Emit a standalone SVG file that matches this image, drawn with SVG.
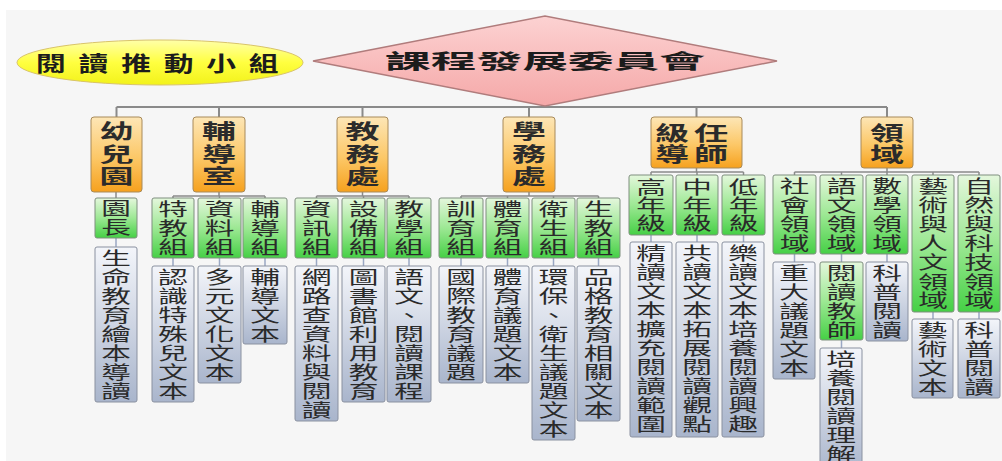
<svg xmlns="http://www.w3.org/2000/svg" width="1002" height="461" viewBox="0 0 1002 461">
<style>
.c{font-family:"Noto Sans CJK TC","Noto Sans CJK SC",sans-serif;font-size:18px;fill:#2a2a2a;text-anchor:middle}
.o{font-family:"Noto Sans CJK TC","Noto Sans CJK SC",sans-serif;font-size:20px;font-weight:700;fill:#2b2b2b;text-anchor:middle}
.h{font-family:"Noto Sans CJK TC","Noto Sans CJK SC",sans-serif;font-size:20px;font-weight:700;fill:#1c1c1c}
.bo{fill:url(#gO);stroke:#a88a5a;stroke-width:1}
.bg{fill:url(#gG);stroke:#7f8f7f;stroke-width:1}
.bs{fill:url(#gS);stroke:#8a91a0;stroke-width:1}
.ln{stroke:#8a8a8a;stroke-width:2;fill:none}
.sl{stroke:#8a8a8a;stroke-width:1.5;fill:none}
.tk{stroke:#9aa8c4;stroke-width:1.5;fill:none}
</style>
<defs>
<linearGradient id="gO" x1="0" y1="0" x2="0" y2="1"><stop offset="0" stop-color="#fde6b6"/><stop offset="0.55" stop-color="#fcc766"/><stop offset="1" stop-color="#f6a11e"/></linearGradient>
<linearGradient id="gG" x1="0" y1="0" x2="0" y2="1"><stop offset="0" stop-color="#e4f7dc"/><stop offset="0.5" stop-color="#9de894"/><stop offset="1" stop-color="#45d045"/></linearGradient>
<linearGradient id="gS" x1="0" y1="0" x2="0" y2="1"><stop offset="0" stop-color="#f3f5fa"/><stop offset="1" stop-color="#a9b5cc"/></linearGradient>
<linearGradient id="gY" x1="0" y1="0" x2="0" y2="1"><stop offset="0" stop-color="#ffffa8"/><stop offset="0.5" stop-color="#ffff40"/><stop offset="1" stop-color="#f2f21a"/></linearGradient>
<linearGradient id="gP" x1="0" y1="0" x2="0" y2="1"><stop offset="0" stop-color="#fcd2d2"/><stop offset="1" stop-color="#f5a8a8"/></linearGradient>
</defs>
<rect x="0" y="0" width="1002" height="461" fill="#ffffff"/>
<rect x="6" y="10" width="996" height="451" fill="#f6f6f6"/>

<g id="connectors">
<path class="ln" d="M116.5 107H887M116.5 107V117M219 107V117M362.5 107V117M529 107V117M696.5 107V117M887 107V117"/>
<path class="sl" d="M116 192V198"/>
<path class="sl" d="M219 192V196M173 196H265M173 196V198M219.5 196V198M265 196V198"/>
<path class="sl" d="M362.5 192V196M316.5 196H409M316.5 196V198M363.5 196V198M409 196V198"/>
<path class="sl" d="M529 192V196M461 196H598.5M461 196V198M507.5 196V198M553.5 196V198M598.5 196V198"/>
<path class="sl" d="M696.5 168V172M651 172H743.5M651 172V175M697 172V175M743.5 172V175"/>
<path class="sl" d="M887 168V172M794.5 172H979M794.5 172V175M841.5 172V175M887 172V175M933 172V175M979 172V175"/>
<path class="tk" d="M116 238V247M173 258V266M219.5 258V266M265 258V266M316.5 258V266M363.5 258V266M409 258V266M461 258V266M507.5 258V266M553.5 258V266M598.5 258V266M651 235V242M697 235V242M743.5 235V242M794.5 254V262M841.5 254V262M887 254V262M933 312V319M979 312V319M841.5 340V348"/>
</g>

<g id="reading-group">
<ellipse cx="160" cy="62.5" rx="143" ry="22.5" fill="url(#gY)" stroke="#d9c46a" stroke-width="1"/>
<text class="h" style="font-size:21px" transform="translate(36,71) scale(1.42,1)" letter-spacing="9">閱讀推動小組</text>
</g>

<g id="committee">
<polygon points="313,61 545,16 777,61 545,106" fill="url(#gP)" stroke="#b07c7c" stroke-width="1.5"/>
<text class="h" x="385" y="69" textLength="320" lengthAdjust="spacingAndGlyphs">課程發展委員會</text>
</g>

<g id="kindergarten">
<rect class="bo" x="91" y="117" width="51" height="75" rx="3"/>
<text class="o" transform="translate(116.5,0) scale(1.7,1)"><tspan x="0" y="139.5">幼</tspan><tspan x="0" y="162">兒</tspan><tspan x="0" y="184.5">園</tspan></text>
</g>
<g id="counseling">
<rect class="bo" x="193" y="117" width="52" height="75" rx="3"/>
<text class="o" transform="translate(219,0) scale(1.7,1)"><tspan x="0" y="139.5">輔</tspan><tspan x="0" y="162">導</tspan><tspan x="0" y="184.5">室</tspan></text>
</g>
<g id="academic">
<rect class="bo" x="337" y="117" width="51" height="75" rx="3"/>
<text class="o" transform="translate(362.5,0) scale(1.7,1)"><tspan x="0" y="139.5">教</tspan><tspan x="0" y="162">務</tspan><tspan x="0" y="184.5">處</tspan></text>
</g>
<g id="student-affairs">
<rect class="bo" x="503" y="117" width="52" height="75" rx="3"/>
<text class="o" transform="translate(529,0) scale(1.7,1)"><tspan x="0" y="139.5">學</tspan><tspan x="0" y="162">務</tspan><tspan x="0" y="184.5">處</tspan></text>
</g>
<g id="homeroom">
<rect class="bo" x="651" y="117" width="91" height="51" rx="3"/>
<text class="o" transform="translate(672,0) scale(1.7,1)"><tspan x="0" y="141">級</tspan><tspan x="0" y="162.5">導</tspan></text>
<text class="o" transform="translate(711,0) scale(1.7,1)"><tspan x="0" y="141">任</tspan><tspan x="0" y="162.5">師</tspan></text>
</g>
<g id="domains">
<rect class="bo" x="861" y="117" width="52" height="51" rx="3"/>
<text class="o" transform="translate(887,0) scale(1.7,1)"><tspan x="0" y="141">領</tspan><tspan x="0" y="162.5">域</tspan></text>
</g>

<g id="principal">
<rect class="bg" x="95" y="198" width="42" height="40" rx="2"/>
<text class="c" transform="translate(116,0) scale(1.65,1)"><tspan x="0" y="215.5">園</tspan><tspan x="0" y="234.5">長</tspan></text>
</g>
<g id="special-ed">
<rect class="bg" x="152" y="198" width="42" height="60" rx="2"/>
<text class="c" transform="translate(173,0) scale(1.65,1)"><tspan x="0" y="216.5">特</tspan><tspan x="0" y="235.5">教</tspan><tspan x="0" y="254.5">組</tspan></text>
</g>
<g id="data-sec">
<rect class="bg" x="198" y="198" width="43" height="60" rx="2"/>
<text class="c" transform="translate(219.5,0) scale(1.65,1)"><tspan x="0" y="216.5">資</tspan><tspan x="0" y="235.5">料</tspan><tspan x="0" y="254.5">組</tspan></text>
</g>
<g id="guidance-sec">
<rect class="bg" x="243" y="198" width="44" height="60" rx="2"/>
<text class="c" transform="translate(265,0) scale(1.65,1)"><tspan x="0" y="216.5">輔</tspan><tspan x="0" y="235.5">導</tspan><tspan x="0" y="254.5">組</tspan></text>
</g>
<g id="info-sec">
<rect class="bg" x="295" y="198" width="43" height="60" rx="2"/>
<text class="c" transform="translate(316.5,0) scale(1.65,1)"><tspan x="0" y="216.5">資</tspan><tspan x="0" y="235.5">訊</tspan><tspan x="0" y="254.5">組</tspan></text>
</g>
<g id="equip-sec">
<rect class="bg" x="342" y="198" width="43" height="60" rx="2"/>
<text class="c" transform="translate(363.5,0) scale(1.65,1)"><tspan x="0" y="216.5">設</tspan><tspan x="0" y="235.5">備</tspan><tspan x="0" y="254.5">組</tspan></text>
</g>
<g id="teaching-sec">
<rect class="bg" x="387" y="198" width="44" height="60" rx="2"/>
<text class="c" transform="translate(409,0) scale(1.65,1)"><tspan x="0" y="216.5">教</tspan><tspan x="0" y="235.5">學</tspan><tspan x="0" y="254.5">組</tspan></text>
</g>
<g id="discipline-sec">
<rect class="bg" x="439" y="198" width="44" height="60" rx="2"/>
<text class="c" transform="translate(461,0) scale(1.65,1)"><tspan x="0" y="216.5">訓</tspan><tspan x="0" y="235.5">育</tspan><tspan x="0" y="254.5">組</tspan></text>
</g>
<g id="pe-sec">
<rect class="bg" x="486" y="198" width="43" height="60" rx="2"/>
<text class="c" transform="translate(507.5,0) scale(1.65,1)"><tspan x="0" y="216.5">體</tspan><tspan x="0" y="235.5">育</tspan><tspan x="0" y="254.5">組</tspan></text>
</g>
<g id="health-sec">
<rect class="bg" x="532" y="198" width="43" height="60" rx="2"/>
<text class="c" transform="translate(553.5,0) scale(1.65,1)"><tspan x="0" y="216.5">衛</tspan><tspan x="0" y="235.5">生</tspan><tspan x="0" y="254.5">組</tspan></text>
</g>
<g id="life-sec">
<rect class="bg" x="577" y="198" width="43" height="60" rx="2"/>
<text class="c" transform="translate(598.5,0) scale(1.65,1)"><tspan x="0" y="216.5">生</tspan><tspan x="0" y="235.5">教</tspan><tspan x="0" y="254.5">組</tspan></text>
</g>
<g id="senior-grade">
<rect class="bg" x="629" y="175" width="44" height="60" rx="2"/>
<text class="c" transform="translate(651,0) scale(1.65,1)"><tspan x="0" y="194.5">高</tspan><tspan x="0" y="212.5">年</tspan><tspan x="0" y="230.5">級</tspan></text>
</g>
<g id="middle-grade">
<rect class="bg" x="676" y="175" width="42" height="60" rx="2"/>
<text class="c" transform="translate(697,0) scale(1.65,1)"><tspan x="0" y="194.5">中</tspan><tspan x="0" y="212.5">年</tspan><tspan x="0" y="230.5">級</tspan></text>
</g>
<g id="junior-grade">
<rect class="bg" x="722" y="175" width="43" height="60" rx="2"/>
<text class="c" transform="translate(743.5,0) scale(1.65,1)"><tspan x="0" y="194.5">低</tspan><tspan x="0" y="212.5">年</tspan><tspan x="0" y="230.5">級</tspan></text>
</g>
<g id="social-domain">
<rect class="bg" x="773" y="175" width="43" height="79" rx="2"/>
<text class="c" transform="translate(794.5,0) scale(1.65,1)"><tspan x="0" y="193.5">社</tspan><tspan x="0" y="212.5">會</tspan><tspan x="0" y="231.5">領</tspan><tspan x="0" y="250.5">域</tspan></text>
</g>
<g id="language-domain">
<rect class="bg" x="820" y="175" width="43" height="79" rx="2"/>
<text class="c" transform="translate(841.5,0) scale(1.65,1)"><tspan x="0" y="193.5">語</tspan><tspan x="0" y="212.5">文</tspan><tspan x="0" y="231.5">領</tspan><tspan x="0" y="250.5">域</tspan></text>
</g>
<g id="math-domain">
<rect class="bg" x="866" y="175" width="42" height="79" rx="2"/>
<text class="c" transform="translate(887,0) scale(1.65,1)"><tspan x="0" y="193.5">數</tspan><tspan x="0" y="212.5">學</tspan><tspan x="0" y="231.5">領</tspan><tspan x="0" y="250.5">域</tspan></text>
</g>
<g id="arts-domain">
<rect class="bg" x="912" y="175" width="42" height="137" rx="2"/>
<text class="c" transform="translate(933,0) scale(1.65,1)"><tspan x="0" y="193.5">藝</tspan><tspan x="0" y="212.5">術</tspan><tspan x="0" y="231.5">與</tspan><tspan x="0" y="250.5">人</tspan><tspan x="0" y="269.5">文</tspan><tspan x="0" y="288.5">領</tspan><tspan x="0" y="307.5">域</tspan></text>
</g>
<g id="science-domain">
<rect class="bg" x="958" y="175" width="42" height="137" rx="2"/>
<text class="c" transform="translate(979,0) scale(1.65,1)"><tspan x="0" y="193.5">自</tspan><tspan x="0" y="212.5">然</tspan><tspan x="0" y="231.5">與</tspan><tspan x="0" y="250.5">科</tspan><tspan x="0" y="269.5">技</tspan><tspan x="0" y="288.5">領</tspan><tspan x="0" y="307.5">域</tspan></text>
</g>
<g id="reading-teacher">
<rect class="bg" x="820" y="262" width="43" height="78" rx="2"/>
<text class="c" transform="translate(841.5,0) scale(1.65,1)"><tspan x="0" y="280.5">閱</tspan><tspan x="0" y="299.5">讀</tspan><tspan x="0" y="318.5">教</tspan><tspan x="0" y="337.5">師</tspan></text>
</g>

<g id="t-life">
<rect class="bs" x="95" y="247" width="42" height="155" rx="2"/>
<text class="c" transform="translate(116,0) scale(1.65,1)"><tspan x="0" y="265.5">生</tspan><tspan x="0" y="284.5">命</tspan><tspan x="0" y="303.5">教</tspan><tspan x="0" y="322.5">育</tspan><tspan x="0" y="341.5">繪</tspan><tspan x="0" y="360.5">本</tspan><tspan x="0" y="379.5">導</tspan><tspan x="0" y="398.5">讀</tspan></text>
</g>
<g id="t-special">
<rect class="bs" x="152" y="266" width="42" height="136" rx="2"/>
<text class="c" transform="translate(173,0) scale(1.65,1)"><tspan x="0" y="284.5">認</tspan><tspan x="0" y="303.5">識</tspan><tspan x="0" y="322.5">特</tspan><tspan x="0" y="341.5">殊</tspan><tspan x="0" y="360.5">兒</tspan><tspan x="0" y="379.5">文</tspan><tspan x="0" y="398.5">本</tspan></text>
</g>
<g id="t-multicultural">
<rect class="bs" x="198" y="266" width="43" height="117" rx="2"/>
<text class="c" transform="translate(219.5,0) scale(1.65,1)"><tspan x="0" y="284.5">多</tspan><tspan x="0" y="303.5">元</tspan><tspan x="0" y="322.5">文</tspan><tspan x="0" y="341.5">化</tspan><tspan x="0" y="360.5">文</tspan><tspan x="0" y="379.5">本</tspan></text>
</g>
<g id="t-guidance">
<rect class="bs" x="243" y="266" width="44" height="78" rx="2"/>
<text class="c" transform="translate(265,0) scale(1.65,1)"><tspan x="0" y="284.5">輔</tspan><tspan x="0" y="303.5">導</tspan><tspan x="0" y="322.5">文</tspan><tspan x="0" y="341.5">本</tspan></text>
</g>
<g id="t-internet">
<rect class="bs" x="295" y="266" width="43" height="155" rx="2"/>
<text class="c" transform="translate(316.5,0) scale(1.65,1)"><tspan x="0" y="284.5">網</tspan><tspan x="0" y="303.5">路</tspan><tspan x="0" y="322.5">查</tspan><tspan x="0" y="341.5">資</tspan><tspan x="0" y="360.5">料</tspan><tspan x="0" y="379.5">與</tspan><tspan x="0" y="398.5">閱</tspan><tspan x="0" y="417.5">讀</tspan></text>
</g>
<g id="t-library">
<rect class="bs" x="342" y="266" width="43" height="136" rx="2"/>
<text class="c" transform="translate(363.5,0) scale(1.65,1)"><tspan x="0" y="284.5">圖</tspan><tspan x="0" y="303.5">書</tspan><tspan x="0" y="322.5">館</tspan><tspan x="0" y="341.5">利</tspan><tspan x="0" y="360.5">用</tspan><tspan x="0" y="379.5">教</tspan><tspan x="0" y="398.5">育</tspan></text>
</g>
<g id="t-course">
<rect class="bs" x="387" y="266" width="44" height="136" rx="2"/>
<text class="c" transform="translate(409,0) scale(1.65,1)"><tspan x="0" y="284.5">語</tspan><tspan x="0" y="303.5">文</tspan><tspan x="0" y="322.5">、</tspan><tspan x="0" y="341.5">閱</tspan><tspan x="0" y="360.5">讀</tspan><tspan x="0" y="379.5">課</tspan><tspan x="0" y="398.5">程</tspan></text>
</g>
<g id="t-international">
<rect class="bs" x="439" y="266" width="44" height="117" rx="2"/>
<text class="c" transform="translate(461,0) scale(1.65,1)"><tspan x="0" y="284.5">國</tspan><tspan x="0" y="303.5">際</tspan><tspan x="0" y="322.5">教</tspan><tspan x="0" y="341.5">育</tspan><tspan x="0" y="360.5">議</tspan><tspan x="0" y="379.5">題</tspan></text>
</g>
<g id="t-pe">
<rect class="bs" x="486" y="266" width="43" height="117" rx="2"/>
<text class="c" transform="translate(507.5,0) scale(1.65,1)"><tspan x="0" y="284.5">體</tspan><tspan x="0" y="303.5">育</tspan><tspan x="0" y="322.5">議</tspan><tspan x="0" y="341.5">題</tspan><tspan x="0" y="360.5">文</tspan><tspan x="0" y="379.5">本</tspan></text>
</g>
<g id="t-environment">
<rect class="bs" x="532" y="266" width="43" height="174" rx="2"/>
<text class="c" transform="translate(553.5,0) scale(1.65,1)"><tspan x="0" y="284.5">環</tspan><tspan x="0" y="303.5">保</tspan><tspan x="0" y="322.5">、</tspan><tspan x="0" y="341.5">衛</tspan><tspan x="0" y="360.5">生</tspan><tspan x="0" y="379.5">議</tspan><tspan x="0" y="398.5">題</tspan><tspan x="0" y="417.5">文</tspan><tspan x="0" y="436.5">本</tspan></text>
</g>
<g id="t-character">
<rect class="bs" x="577" y="266" width="43" height="155" rx="2"/>
<text class="c" transform="translate(598.5,0) scale(1.65,1)"><tspan x="0" y="284.5">品</tspan><tspan x="0" y="303.5">格</tspan><tspan x="0" y="322.5">教</tspan><tspan x="0" y="341.5">育</tspan><tspan x="0" y="360.5">相</tspan><tspan x="0" y="379.5">關</tspan><tspan x="0" y="398.5">文</tspan><tspan x="0" y="417.5">本</tspan></text>
</g>
<g id="t-senior">
<rect class="bs" x="630" y="242" width="42" height="195" rx="2"/>
<text class="c" transform="translate(651,0) scale(1.65,1)"><tspan x="0" y="260.5">精</tspan><tspan x="0" y="279.5">讀</tspan><tspan x="0" y="298.5">文</tspan><tspan x="0" y="317.5">本</tspan><tspan x="0" y="336.5">擴</tspan><tspan x="0" y="355.5">充</tspan><tspan x="0" y="374.5">閱</tspan><tspan x="0" y="393.5">讀</tspan><tspan x="0" y="412.5">範</tspan><tspan x="0" y="431.5">圍</tspan></text>
</g>
<g id="t-middle">
<rect class="bs" x="676" y="242" width="42" height="195" rx="2"/>
<text class="c" transform="translate(697,0) scale(1.65,1)"><tspan x="0" y="260.5">共</tspan><tspan x="0" y="279.5">讀</tspan><tspan x="0" y="298.5">文</tspan><tspan x="0" y="317.5">本</tspan><tspan x="0" y="336.5">拓</tspan><tspan x="0" y="355.5">展</tspan><tspan x="0" y="374.5">閱</tspan><tspan x="0" y="393.5">讀</tspan><tspan x="0" y="412.5">觀</tspan><tspan x="0" y="431.5">點</tspan></text>
</g>
<g id="t-junior">
<rect class="bs" x="722" y="242" width="42" height="195" rx="2"/>
<text class="c" transform="translate(743,0) scale(1.65,1)"><tspan x="0" y="260.5">樂</tspan><tspan x="0" y="279.5">讀</tspan><tspan x="0" y="298.5">文</tspan><tspan x="0" y="317.5">本</tspan><tspan x="0" y="336.5">培</tspan><tspan x="0" y="355.5">養</tspan><tspan x="0" y="374.5">閱</tspan><tspan x="0" y="393.5">讀</tspan><tspan x="0" y="412.5">興</tspan><tspan x="0" y="431.5">趣</tspan></text>
</g>
<g id="t-social">
<rect class="bs" x="773" y="262" width="42" height="117" rx="2"/>
<text class="c" transform="translate(794,0) scale(1.65,1)"><tspan x="0" y="280.5">重</tspan><tspan x="0" y="299.5">大</tspan><tspan x="0" y="318.5">議</tspan><tspan x="0" y="337.5">題</tspan><tspan x="0" y="356.5">文</tspan><tspan x="0" y="375.5">本</tspan></text>
</g>
<g id="t-comprehension">
<rect class="bs" x="820" y="348" width="42" height="125" rx="2"/>
<text class="c" transform="translate(841,0) scale(1.65,1)"><tspan x="0" y="366.5">培</tspan><tspan x="0" y="385.5">養</tspan><tspan x="0" y="404.5">閱</tspan><tspan x="0" y="423.5">讀</tspan><tspan x="0" y="442.5">理</tspan><tspan x="0" y="461.5">解</tspan></text>
</g>
<g id="t-math">
<rect class="bs" x="866" y="262" width="42" height="79" rx="2"/>
<text class="c" transform="translate(887,0) scale(1.65,1)"><tspan x="0" y="280.5">科</tspan><tspan x="0" y="299.5">普</tspan><tspan x="0" y="318.5">閱</tspan><tspan x="0" y="337.5">讀</tspan></text>
</g>
<g id="t-arts">
<rect class="bs" x="912" y="319" width="41" height="79" rx="2"/>
<text class="c" transform="translate(932.5,0) scale(1.65,1)"><tspan x="0" y="337.5">藝</tspan><tspan x="0" y="356.5">術</tspan><tspan x="0" y="375.5">文</tspan><tspan x="0" y="394.5">本</tspan></text>
</g>
<g id="t-science">
<rect class="bs" x="958" y="319" width="42" height="79" rx="2"/>
<text class="c" transform="translate(979,0) scale(1.65,1)"><tspan x="0" y="337.5">科</tspan><tspan x="0" y="356.5">普</tspan><tspan x="0" y="375.5">閱</tspan><tspan x="0" y="394.5">讀</tspan></text>
</g>
</svg>
